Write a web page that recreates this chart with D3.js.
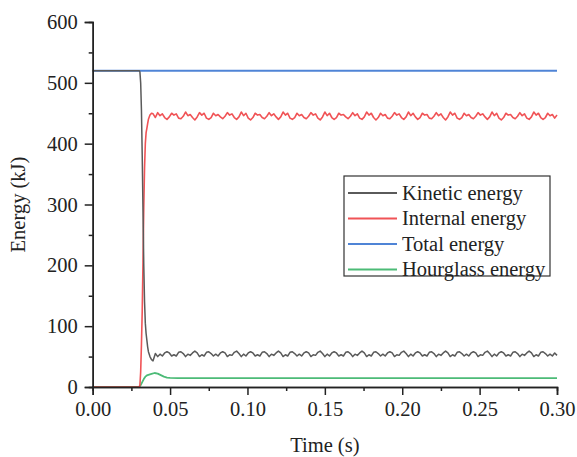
<!DOCTYPE html>
<html>
<head>
<meta charset="utf-8">
<script src="https://cdn.jsdelivr.net/npm/d3@7/dist/d3.min.js"></script>
<style>
  html, body { margin: 0; padding: 0; background: #fff; }
  svg { display: block; }
  text { font-family: "Liberation Serif", "Times New Roman", serif; fill: #222; }
</style>
</head>
<body>
<svg id="chart" width="577" height="457"></svg>
<script>
// ---- Data -------------------------------------------------------------
const xTicks = [0, 0.05, 0.10, 0.15, 0.20, 0.25, 0.30];
const yTicks = [0, 100, 200, 300, 400, 500, 600];
const seriesNames = ["Kinetic energy", "Internal energy", "Total energy", "Hourglass energy"];

// Impact transition (s, kJ)
const transTime     = [0, 0.0300, 0.0305, 0.0310, 0.0315, 0.0320, 0.0325, 0.0330, 0.0335, 0.0340, 0.0345, 0.0350, 0.0355, 0.0360, 0.0370, 0.0380, 0.0390];
const kineticTrans  = [520, 520, 518, 500, 455, 380, 290, 200, 140, 105, 88, 77, 66, 58, 50, 45, 43];
const internalTrans = [0, 0, 3, 25, 70, 125, 205, 295, 360, 400, 418, 425, 433, 440, 447, 450, 449];

// Post-impact samples, every 1.5 ms from 40.5 ms (one row per oscillation cycle)
const steadyStart = 0.0405;
const steadyStep = 0.0015;
const kineticSteady = [
  55, 50, 54, 51, 56, 58,
  56, 51, 53, 51, 57, 58,
  55, 50, 54, 52, 56, 59,
  56, 50, 53, 51, 57, 58,
  55, 51, 54, 51, 56, 58,
  56, 50, 53, 52, 57, 59,
  55, 50, 54, 51, 56, 58,
  56, 51, 53, 51, 57, 58,
  55, 50, 54, 52, 56, 59,
  56, 50, 53, 51, 57, 58,
  55, 51, 54, 51, 56, 58,
  56, 50, 53, 52, 57, 59,
  55, 50, 54, 51, 56, 58,
  56, 51, 53, 51, 57, 58,
  55, 50, 54, 52, 56, 59,
  56, 50, 53, 51, 57, 58,
  55, 51, 54, 51, 56, 58,
  56, 50, 53, 52, 57, 59,
  55, 50, 54, 51, 56, 58,
  56, 51, 53, 51, 57, 58,
  55, 50, 54, 52, 56, 59,
  56, 50, 53, 51, 57, 58,
  55, 51, 54, 51, 56, 58,
  56, 50, 53, 52, 57, 59,
  55, 50, 54, 51, 56, 58,
  56, 51, 53, 51, 57, 58,
  55, 50, 54, 52, 56, 59,
  56, 50, 53, 51, 57, 58,
  55, 51, 54, 51, 56, 52
];
const internalSteady = [
  443, 451, 446, 449, 443, 440,
  444, 450, 447, 449, 442, 441,
  445, 452, 446, 448, 443, 439,
  444, 451, 447, 450, 442, 440,
  443, 450, 446, 448, 444, 441,
  445, 451, 447, 449, 443, 440,
  444, 452, 446, 450, 442, 439,
  443, 450, 447, 448, 443, 441,
  445, 451, 446, 449, 444, 440,
  444, 452, 447, 450, 442, 440,
  443, 450, 446, 448, 443, 441,
  445, 451, 447, 449, 442, 439,
  444, 452, 446, 450, 443, 440,
  443, 450, 447, 448, 444, 441,
  445, 451, 446, 449, 442, 440,
  444, 452, 447, 450, 443, 439,
  443, 450, 446, 448, 442, 441,
  445, 451, 447, 449, 443, 440,
  444, 452, 446, 450, 444, 440,
  443, 450, 447, 448, 442, 441,
  445, 451, 446, 449, 443, 439,
  444, 452, 447, 450, 442, 440,
  443, 450, 446, 448, 443, 441,
  445, 451, 447, 449, 444, 440,
  444, 452, 446, 450, 442, 439,
  443, 450, 447, 448, 443, 441,
  445, 451, 446, 449, 442, 440,
  444, 452, 447, 450, 443, 440,
  443, 450, 446, 448, 442, 447
];

const totalTime = [0, 0.05, 0.10, 0.15, 0.20, 0.25, 0.30];
const totalEnergy = [520, 520, 520, 520, 520, 520, 520];

const hourglassTime = [0, 0.0300, 0.0310, 0.0320, 0.0330, 0.0340, 0.0350, 0.0360, 0.0380, 0.0400, 0.0420, 0.0440, 0.0460, 0.0480, 0.0500, 0.0550, 0.1000, 0.2000, 0.3000];
const hourglassEnergy = [0, 0, 3, 8, 13, 17, 19, 20, 21.5, 23, 22, 19.5, 17, 15.5, 15, 14.5, 14.5, 14.5, 14.5];

const colors = ["#5a5a5a", "#f05356", "#4f84d6", "#4cbb77"];
const widths = [1.5, 1.6, 2.0, 1.8];

// ---- Build point lists --------------------------------------------------
function joinSeries(tA, vA, vB) {
  const pts = tA.map((t, i) => [t, vA[i]]);
  vB.forEach((v, i) => {
    const t = steadyStart + i * steadyStep;
    if (t <= 0.30 + 1e-9) pts.push([t, v]);
  });
  return pts;
}
const kinetic = joinSeries(transTime, kineticTrans, kineticSteady);
const internal = joinSeries(transTime, internalTrans, internalSteady);
const total = totalTime.map((t, i) => [t, totalEnergy[i]]);
const hourglass = hourglassTime.map((t, i) => [t, hourglassEnergy[i]]);
const allSeries = [kinetic, internal, total, hourglass];

// ---- Layout -------------------------------------------------------------
const svg = d3.select("#chart");
const plotL = 92.7, plotR = 557, plotT = 22, plotB = 387;
const x = d3.scaleLinear().domain([0, 0.30]).range([plotL, plotR]);
const y = d3.scaleLinear().domain([0, 600]).range([plotB, plotT]);

const line = d3.line().x(d => x(d[0])).y(d => y(d[1]));

// Data lines (drawn in reverse so kinetic sits on top)
svg.append("g").selectAll("path")
  .data(allSeries.map((d, i) => ({ d, i })).reverse())
  .join("path")
  .attr("d", s => line(s.d))
  .attr("fill", "none")
  .attr("stroke", s => colors[s.i])
  .attr("stroke-width", s => widths[s.i])
  .attr("stroke-linejoin", "round");

// ---- Axes ---------------------------------------------------------------
const fontSize = 20.5;
const xAxisMinor = d3.axisBottom(x).tickValues(d3.range(0.025, 0.30, 0.05)).tickSize(4).tickFormat("");
const xAxis = d3.axisBottom(x).tickValues(xTicks).tickSize(8).tickPadding(6).tickFormat(d3.format(".2f"));
const yAxisMinor = d3.axisLeft(y).tickValues(d3.range(50, 600, 100)).tickSize(4).tickFormat("");
const yAxis = d3.axisLeft(y).tickValues(yTicks).tickSize(8).tickPadding(7).tickFormat(d3.format("d"));

function styleAxis(g) {
  g.select(".domain").attr("stroke", "#222").attr("stroke-width", 1.5);
  g.selectAll(".tick line").attr("stroke", "#222").attr("stroke-width", 1.5);
  g.selectAll(".tick text").attr("font-size", fontSize).attr("font-family", "Liberation Serif, serif").attr("fill", "#222");
}

svg.append("g").attr("transform", `translate(0,${plotB})`).call(xAxisMinor).call(styleAxis);
svg.append("g").attr("transform", `translate(0,${plotB})`).call(xAxis).call(styleAxis);
svg.append("g").attr("transform", `translate(${plotL},0)`).call(yAxisMinor).call(styleAxis);
svg.append("g").attr("transform", `translate(${plotL},0)`).call(yAxis).call(styleAxis);

// Axis titles
svg.append("text")
  .attr("x", (plotL + plotR) / 2).attr("y", 452)
  .attr("text-anchor", "middle").attr("font-size", fontSize)
  .text("Time (s)");
svg.append("text")
  .attr("transform", `translate(25,${(plotT + plotB) / 2}) rotate(-90)`)
  .attr("text-anchor", "middle").attr("font-size", fontSize)
  .text("Energy (kJ)");

// ---- Legend -------------------------------------------------------------
const legend = svg.append("g");
legend.append("rect")
  .attr("x", 344).attr("y", 176).attr("width", 206).attr("height", 100)
  .attr("fill", "#fff").attr("stroke", "#333").attr("stroke-width", 1.2);
seriesNames.forEach((name, i) => {
  const yy = 193 + i * 25.5;
  legend.append("line")
    .attr("x1", 348).attr("x2", 397).attr("y1", yy).attr("y2", yy)
    .attr("stroke", colors[i]).attr("stroke-width", 1.8);
  legend.append("text")
    .attr("x", 402).attr("y", yy + 6.5)
    .attr("font-size", fontSize)
    .text(name);
});
</script>
</body>
</html>
